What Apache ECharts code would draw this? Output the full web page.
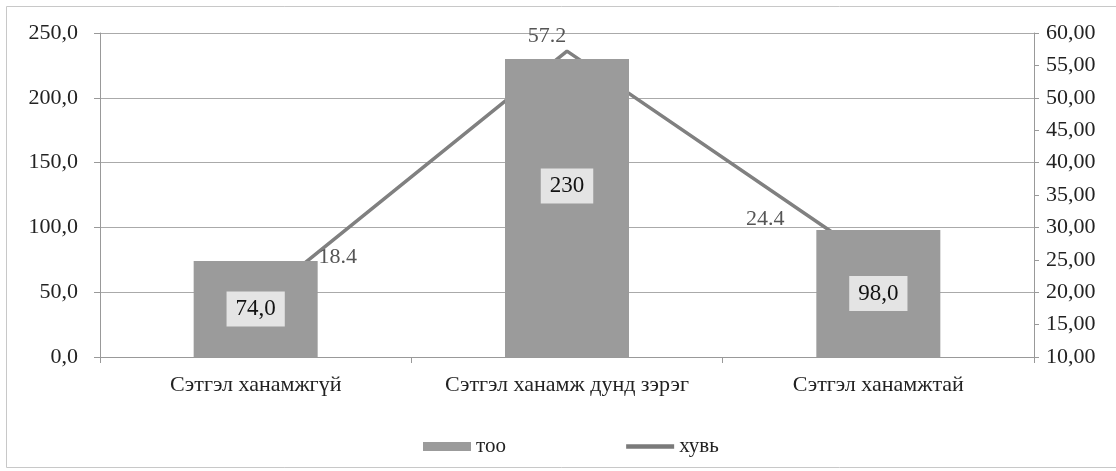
<!DOCTYPE html>
<html>
<head>
<meta charset="utf-8">
<script src="https://cdn.jsdelivr.net/npm/echarts@6/dist/echarts.min.js"></script>
<style>html,body{margin:0;padding:0;background:#fff;}#c{width:1116px;height:471px;}</style>
</head>
<body>
<div id="c"></div>
<script>
const categories = ['Сэтгэл ханамжгүй', 'Сэтгэл ханамж дунд зэрэг', 'Сэтгэл ханамжтай'];
const tooValues = [74.0, 230, 98.0];
const tooLabels = ['74,0', '230', '98,0'];
const huviValues = [18.4, 57.2, 24.4];
const huviLabels = ['18.4', '57.2', '24.4'];
const leftTicks = {min: 0, max: 250, interval: 50};
const rightTicks = {min: 10, max: 60, interval: 5};

const FONT = '"Liberation Serif", "DejaVu Serif", serif';
const chart = echarts.init(document.getElementById('c'));

const barOffsets = [[0, 0], [0, -22], [0, 0]];
const lineOffsets = [[82, -34], [-20, -3], [-113, -33]];

chart.setOption({
  animation: false,
  backgroundColor: '#fff',
  textStyle: {fontFamily: FONT},
  graphic: [{
    type: 'rect', shape: {x: 6.5, y: 6.5, width: 1120, height: 461},
    style: {fill: 'none', stroke: '#c8c8c8', lineWidth: 1}, z: -10
  }],
  grid: {left: 100, right: 82, top: 33, bottom: 114},
  legend: {
    left: 418, top: 431, itemWidth: 48, itemHeight: 9, itemGap: 118,
    textStyle: {fontFamily: FONT, fontSize: 21, color: '#222'},
    data: [{name: 'тоо', icon: 'rect'},
           {name: 'хувь', itemStyle: {opacity: 0}, lineStyle: {width: 4.5, color: '#7a7a7a'}}]
  },
  xAxis: {
    type: 'category', data: categories,
    axisLine: {lineStyle: {color: '#999'}},
    axisTick: {show: true, alignWithLabel: false, length: 6, lineStyle: {color: '#999'}},
    axisLabel: {fontFamily: FONT, fontSize: 22, color: '#222', margin: 17, interval: 0, hideOverlap: false}
  },
  yAxis: [{
    type: 'value', min: leftTicks.min, max: leftTicks.max, interval: leftTicks.interval,
    axisLine: {show: true, lineStyle: {color: '#999'}},
    axisTick: {show: true, length: 6, lineStyle: {color: '#999'}},
    splitLine: {lineStyle: {color: '#aaa', width: 1}},
    axisLabel: {fontFamily: FONT, fontSize: 22, color: '#222', margin: 22,
      formatter: v => v.toFixed(1).replace('.', ',')}
  }, {
    type: 'value', min: rightTicks.min, max: rightTicks.max, interval: rightTicks.interval,
    position: 'right',
    axisLine: {show: true, lineStyle: {color: '#999'}},
    axisTick: {show: true, length: 5, lineStyle: {color: '#999'}},
    splitLine: {show: false},
    axisLabel: {fontFamily: FONT, fontSize: 22, color: '#222', margin: 12,
      formatter: v => v.toFixed(2).replace('.', ',')}
  }],
  series: [{
    name: 'хувь', type: 'line', yAxisIndex: 1, z: 1,
    symbol: 'circle', symbolSize: 1, showSymbol: true,
    lineStyle: {color: '#808080', width: 3.5},
    itemStyle: {color: '#808080'},
    data: huviValues.map((v, i) => ({
      value: v,
      label: {show: true, position: 'top', distance: 0, offset: lineOffsets[i], formatter: huviLabels[i],
        fontFamily: FONT, fontSize: 22, color: '#555'}
    }))
  }, {
    name: 'тоо', type: 'bar', yAxisIndex: 0, z: 3, barWidth: 124,
    itemStyle: {color: '#9b9b9b'},
    data: tooValues.map((v, i) => ({
      value: v,
      label: {show: true, position: 'inside', offset: barOffsets[i], formatter: tooLabels[i],
        fontFamily: FONT, fontSize: 23, color: '#111',
        backgroundColor: '#e4e4e4', padding: [7, 9, 5, 9]}
    }))
  }]
});
</script>
</body>
</html>
